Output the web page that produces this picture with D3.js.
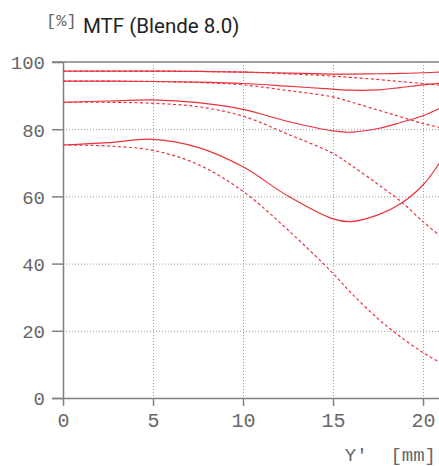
<!DOCTYPE html>
<html><head><meta charset="utf-8">
<script src="https://cdn.jsdelivr.net/npm/d3@7"></script>
<style>
html,body{margin:0;padding:0;background:#fff;overflow:hidden;}
svg{display:block;}
</style></head>
<body>
<svg id="chart" width="439" height="466"></svg>
<script>
// ---- data ----
const xPositions = [0, 2.5, 5, 7.5, 10, 12.5, 15, 16, 17.5, 18.75, 20, 21];
const s1Solid  = [97.3, 97.3, 97.3, 97.2, 97.0, 96.7, 96.4, 96.4, 96.5, 96.6, 96.8, 97.0];
const s1Dashed = [97.3, 97.3, 97.3, 97.2, 97.0, 96.5, 95.8, 95.4, 94.8, 94.2, 93.6, 93.1];
const s2Solid  = [94.3, 94.3, 94.2, 94.0, 93.6, 92.8, 91.9, 91.6, 91.7, 92.4, 93.2, 93.7];
const s2Dashed = [94.3, 94.3, 94.2, 93.9, 93.2, 91.5, 89.6, 88.1, 85.7, 83.7, 81.7, 80.4];
const s3Solid  = [88.0, 88.4, 88.7, 87.9, 85.9, 82.3, 79.5, 79.1, 80.2, 82.0, 84.0, 86.4];
const s3Dashed = [88.0, 88.0, 87.7, 86.7, 83.9, 78.5, 72.8, 69.3, 63.6, 58.6, 52.5, 48.0];
const s4Solid  = [75.3, 76.0, 77.0, 74.6, 68.8, 60.1, 53.3, 52.5, 54.5, 57.8, 63.4, 70.6];
const s4Dashed = [75.3, 75.0, 73.7, 69.5, 61.5, 50.0, 37.1, 31.3, 23.6, 18.2, 13.5, 10.4];
const xTicks = [0, 5, 10, 15, 20];
const yTicks = [0, 20, 40, 60, 80, 100];
const titleText = "MTF (Blende 8.0)";
const unitY = "[%]";
const unitX = "Y'  [mm]";

const seriesList = [
  {v: s1Solid, dashed: false}, {v: s1Dashed, dashed: true},
  {v: s2Solid, dashed: false}, {v: s2Dashed, dashed: true},
  {v: s3Solid, dashed: false}, {v: s3Dashed, dashed: true},
  {v: s4Solid, dashed: false}, {v: s4Dashed, dashed: true}
];

// ---- layout ----
const W = 439, H = 466;
const mLeft = 63, mTop = 62, mBottom = 398;
const x = d3.scaleLinear().domain([0, 20]).range([mLeft, 423]);
const y = d3.scaleLinear().domain([0, 100]).range([mBottom, mTop]);
const axisColor = "#808080";
const gridColor = "#9a9a9a";
const red = "#e8323c";
const mono = "'Liberation Mono', 'DejaVu Sans Mono', monospace";

const svg = d3.select("#chart");

svg.append("defs").append("clipPath").attr("id", "plotclip")
  .append("rect").attr("x", mLeft).attr("y", mTop - 2).attr("width", W - mLeft).attr("height", mBottom - mTop + 4);

// grid
const grid = svg.append("g");
grid.selectAll("line.gy").data(yTicks.filter(t => t > 0 && t < 100)).join("line")
  .attr("x1", mLeft).attr("x2", W).attr("y1", d => y(d) + 0.5).attr("y2", d => y(d) + 0.5)
  .attr("stroke", gridColor).attr("stroke-width", 1).attr("stroke-dasharray", "1,2");
grid.selectAll("line.gx").data(xTicks.filter(t => t > 0)).join("line")
  .attr("y1", mTop).attr("y2", mBottom).attr("x1", d => x(d) + 0.5).attr("x2", d => x(d) + 0.5)
  .attr("stroke", gridColor).attr("stroke-width", 1).attr("stroke-dasharray", "1,2");

// top line at 100 (solid)
svg.append("line").attr("x1", 52).attr("x2", W).attr("y1", y(100)).attr("y2", y(100))
  .attr("stroke", axisColor).attr("stroke-width", 1.5);

// axes
const yAxis = d3.axisLeft(y).tickValues(yTicks).tickSize(11).tickPadding(7).tickSizeOuter(0);
const gy = svg.append("g").attr("transform", `translate(${mLeft},0)`).call(yAxis);
gy.select(".domain").attr("stroke", axisColor).attr("stroke-width", 1.5);
gy.selectAll(".tick line").attr("stroke", axisColor).attr("stroke-width", 1.5);
gy.selectAll(".tick text").attr("fill", "#666").style("font-family", mono)
  .style("font-size", "19px").attr("dy", "0.36em");

const xAxis = d3.axisBottom(x).tickValues(xTicks).tickSize(8).tickPadding(7).tickSizeOuter(0);
const gx = svg.append("g").attr("transform", `translate(0,${mBottom})`).call(xAxis);
gx.select(".domain").attr("stroke", axisColor).attr("stroke-width", 1.5)
  .attr("d", `M${mLeft - 11},0.5H${W}`);
gx.selectAll(".tick line").attr("stroke", axisColor).attr("stroke-width", 1.5);
gx.selectAll(".tick text").attr("fill", "#666").style("font-family", mono)
  .style("font-size", "20px");

// curves
const line = d3.line()
  .x((d, i) => x(xPositions[i]))
  .y(d => y(d))
  .curve(d3.curveCatmullRom.alpha(0.5));
const plot = svg.append("g").attr("clip-path", "url(#plotclip)");
plot.selectAll("path.curve").data(seriesList).join("path")
  .attr("class", "curve")
  .attr("d", d => line(d.v))
  .attr("fill", "none")
  .attr("stroke", red)
  .attr("stroke-width", 1.2)
  .attr("stroke-dasharray", d => d.dashed ? "3,2.5" : null);

// texts
svg.append("text").attr("x", 46).attr("y", 26).text(unitY)
  .attr("fill", "#666").style("font-family", mono).style("font-size", "17px");
svg.append("text").attr("x", 83).attr("y", 32.5).text(titleText)
  .attr("fill", "#222").style("font-family", "Roboto, 'Noto Sans', sans-serif").style("font-size", "20.5px");
svg.append("text").attr("x", 436).attr("y", 461).attr("text-anchor", "end").text(unitX)
  .attr("fill", "#666").style("font-family", mono).style("font-size", "19px")
  .style("white-space", "pre").attr("xml:space", "preserve");
</script>
</body></html>
